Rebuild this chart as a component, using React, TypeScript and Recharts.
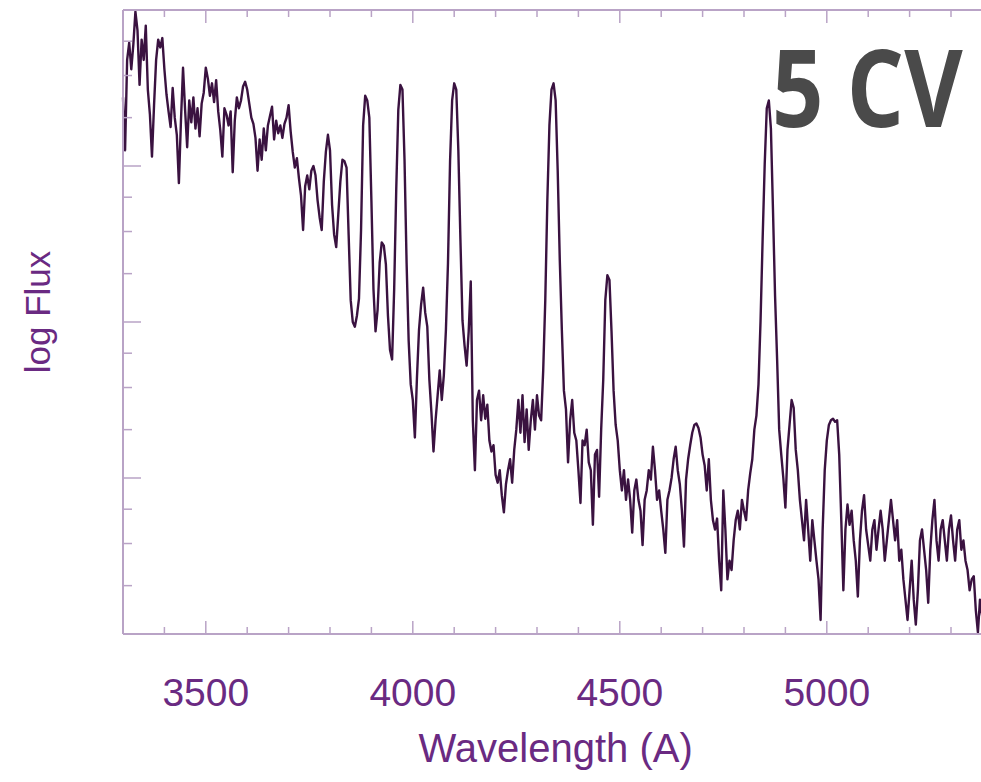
import { LineChart, Line, XAxis, YAxis } from "recharts";

// ---------------------------------------------------------------------------
// Data (5 Å sampling from 3300 Å)
// ---------------------------------------------------------------------------

const WAVE_START = 3300;
const WAVE_STEP = 5;
const WAVE_END = 5400;

// relative log flux, one value per 5 Å
const LOG_FLUX = [
  3.44, 3.10, 3.68, 3.79, 3.62, 3.78, 3.99, 3.87, 3.52, 3.81,
  3.68, 3.90, 3.49, 3.33, 3.06, 3.39, 3.68, 3.81, 3.76, 3.82,
  3.62, 3.46, 3.35, 3.25, 3.50, 3.31, 3.20, 2.89, 3.29, 3.63,
  3.36, 3.12, 3.42, 3.28, 3.44, 3.24, 3.37, 3.19, 3.40, 3.47,
  3.63, 3.56, 3.45, 3.53, 3.41, 3.55, 3.35, 3.23, 3.06, 3.37,
  3.33, 3.26, 3.35, 2.96, 3.29, 3.44, 3.37, 3.42, 3.51, 3.54,
  3.49, 3.40, 3.31, 3.27, 3.18, 2.97, 3.17, 3.04, 3.24, 3.10,
  3.26, 3.32, 3.38, 3.17, 3.29, 3.21, 3.26, 3.18, 3.27, 3.31,
  3.39, 3.22, 3.09, 2.99, 3.05, 2.92, 2.81, 2.59, 2.87, 2.94,
  2.85, 2.97, 3.00, 2.94, 2.78, 2.67, 2.59, 2.90, 3.09, 3.20,
  3.10, 2.75, 2.56, 2.48, 2.69, 2.90, 3.04, 3.03, 2.99, 2.56,
  2.14, 2.00, 1.97, 2.04, 2.15, 2.59, 3.26, 3.45, 3.42, 3.31,
  2.78, 2.21, 1.94, 2.08, 2.38, 2.51, 2.49, 2.37, 2.04, 1.82,
  1.76, 2.21, 2.85, 3.36, 3.52, 3.49, 3.04, 2.38, 1.88, 1.60,
  1.50, 1.26, 1.64, 1.95, 2.11, 2.22, 2.06, 1.97, 1.63, 1.42,
  1.17, 1.37, 1.53, 1.69, 1.50, 1.66, 1.95, 2.38, 3.03, 3.42,
  3.53, 3.49, 3.10, 2.53, 2.01, 1.85, 1.72, 1.94, 2.26, 1.37,
  1.05, 1.50, 1.56, 1.37, 1.53, 1.38, 1.47, 1.24, 1.17, 1.21,
  1.02, 0.97, 1.05, 0.89, 0.78, 0.96, 1.05, 1.12, 0.97, 1.18,
  1.31, 1.50, 1.29, 1.53, 1.23, 1.44, 1.18, 1.37, 1.50, 1.31,
  1.53, 1.40, 1.37, 1.69, 2.14, 2.78, 3.26, 3.49, 3.53, 3.42,
  2.97, 2.40, 1.95, 1.56, 1.44, 1.10, 1.37, 1.50, 1.29, 1.24,
  1.05, 0.84, 1.24, 1.21, 1.31, 1.10, 1.05, 0.70, 1.15, 1.18,
  0.88, 1.31, 1.63, 2.14, 2.30, 2.27, 1.94, 1.56, 1.34, 1.24,
  1.05, 0.92, 1.05, 0.86, 0.99, 0.86, 0.65, 0.92, 0.99, 0.86,
  0.79, 0.57, 0.86, 0.92, 1.05, 0.99, 1.20, 1.05, 0.86, 0.92,
  0.79, 0.67, 0.52, 0.86, 0.92, 1.00, 1.12, 1.20, 1.05, 0.96,
  0.79, 0.56, 0.99, 1.12, 1.21, 1.29, 1.34, 1.35, 1.32, 1.26,
  1.15, 1.08, 0.92, 1.12, 0.86, 0.73, 0.67, 0.74, 0.47, 0.28,
  0.92, 0.67, 0.35, 0.47, 0.41, 0.60, 0.73, 0.79, 0.67, 0.86,
  0.79, 0.73, 0.92, 1.03, 1.12, 1.31, 1.40, 1.60, 2.01, 2.53,
  3.01, 3.37, 3.42, 3.24, 2.72, 2.17, 1.76, 1.31, 1.15, 1.00,
  0.81, 1.18, 1.34, 1.50, 1.45, 1.18, 1.05, 0.86, 0.73, 0.60,
  0.86, 0.67, 0.47, 0.73, 0.60, 0.47, 0.35, 0.09, 0.67, 1.05,
  1.24, 1.34, 1.37, 1.38, 1.36, 1.37, 1.15, 0.73, 0.28, 0.67,
  0.83, 0.70, 0.79, 0.60, 0.47, 0.24, 0.60, 0.79, 0.89, 0.67,
  0.57, 0.47, 0.67, 0.73, 0.54, 0.67, 0.79, 0.67, 0.47, 0.60,
  0.73, 0.86, 0.73, 0.60, 0.73, 0.47, 0.54, 0.35, 0.22, 0.09,
  0.28, 0.47, 0.22, 0.06, 0.28, 0.60, 0.67, 0.54, 0.41, 0.20,
  0.54, 0.73, 0.86, 0.60, 0.47, 0.67, 0.73, 0.60, 0.47, 0.67,
  0.76, 0.60, 0.47, 0.67, 0.73, 0.54, 0.60, 0.47, 0.41, 0.28,
  0.35, 0.37, 0.15, 0.01, 0.22, 0.12, 0.22, 0.15, 0.09, 0.19, 0.12,
];

const X_MAJOR = [3500, 4000, 4500, 5000];
const X_TICKS = [
  3400, 3500, 3600, 3700, 3800, 3900, 4000, 4100, 4200, 4300,
  4400, 4500, 4600, 4700, 4800, 4900, 5000, 5100, 5200, 5300,
];
const Y_MAJOR = [1, 2, 3];
const Y_TICKS = [
  0.31, 0.58, 0.8, 1, 1.31, 1.58, 1.8, 2, 2.31, 2.58, 2.8, 3, 3.31, 3.58, 3.8,
];

const TITLE = "5 CV";

// ---------------------------------------------------------------------------
// Style
// ---------------------------------------------------------------------------

const AXIS_COLOR = "#b9a3c6";
const LABEL_COLOR = "#6a2a82";
const LINE_COLOR = "#3a1240";
const FONT = "'Liberation Sans', Arial, Helvetica, sans-serif";

const X_MAJOR_LEN = 13;
const X_MINOR_LEN = 7;
const Y_MAJOR_LEN = 18;
const Y_MINOR_LEN = 9;

const data = LOG_FLUX.map((flux, i) => ({
  wavelength: WAVE_START + i * WAVE_STEP,
  flux,
}));

// ---------------------------------------------------------------------------
// Ticks (drawn inward, like the IDL frame)
// ---------------------------------------------------------------------------

const BottomTick = (props: any) => {
  const { x, y, payload } = props;
  const major = X_MAJOR.includes(payload.value);
  return (
    <g>
      <line
        x1={x}
        x2={x}
        y1={y}
        y2={y - (major ? X_MAJOR_LEN : X_MINOR_LEN)}
        stroke={AXIS_COLOR}
        strokeWidth={1.5}
      />
      {major && (
        <text
          x={x}
          y={y + 72}
          textAnchor="middle"
          fontSize={39}
          fontFamily={FONT}
          fill={LABEL_COLOR}
        >
          {payload.value}
        </text>
      )}
    </g>
  );
};

const TopTick = (props: any) => {
  const { x, y, payload } = props;
  const major = X_MAJOR.includes(payload.value);
  return (
    <line
      x1={x}
      x2={x}
      y1={y}
      y2={y + (major ? X_MAJOR_LEN : X_MINOR_LEN)}
      stroke={AXIS_COLOR}
      strokeWidth={1.5}
    />
  );
};

const LeftTick = (props: any) => {
  const { x, y, payload } = props;
  const major = Y_MAJOR.includes(payload.value);
  return (
    <line
      x1={x}
      x2={x + (major ? Y_MAJOR_LEN : Y_MINOR_LEN)}
      y1={y}
      y2={y}
      stroke={AXIS_COLOR}
      strokeWidth={1.5}
    />
  );
};

const RightTick = (props: any) => {
  const { x, y, payload } = props;
  const major = Y_MAJOR.includes(payload.value);
  return (
    <line
      x1={x}
      x2={x - (major ? Y_MAJOR_LEN : Y_MINOR_LEN)}
      y1={y}
      y2={y}
      stroke={AXIS_COLOR}
      strokeWidth={1.5}
    />
  );
};

const xAxisLabel = (props: any) => {
  const { viewBox } = props;
  return (
    <text
      x={viewBox.x + viewBox.width / 2 - 2}
      y={viewBox.y + 128}
      textAnchor="middle"
      fontSize={40}
      fontFamily={FONT}
      fill={LABEL_COLOR}
    >
      Wavelength (A)
    </text>
  );
};

const yAxisLabel = (props: any) => {
  const { viewBox } = props;
  const x = viewBox.x - 72;
  const y = viewBox.y + viewBox.height / 2 - 10;
  return (
    <text
      x={x}
      y={y}
      transform={`rotate(-90, ${x}, ${y})`}
      textAnchor="middle"
      fontSize={35}
      fontFamily={FONT}
      fill={LABEL_COLOR}
    >
      log Flux
    </text>
  );
};

// ---------------------------------------------------------------------------
// Component
// ---------------------------------------------------------------------------

export default function App() {
  const axisLine = { stroke: AXIS_COLOR, strokeWidth: 2 };
  return (
    <div
      style={{
        position: "absolute",
        left: 0,
        top: 0,
        width: 981,
        height: 782,
        overflow: "hidden",
        background: "#ffffff",
      }}
    >
      <LineChart
        width={1000}
        height={782}
        data={data}
        margin={{ top: 9, right: 6.6, bottom: 147, left: 122 }}
      >
        <XAxis
          dataKey="wavelength"
          type="number"
          domain={[WAVE_START, WAVE_END]}
          ticks={X_TICKS}
          interval={0}
          height={1}
          tickSize={0}
          tickMargin={0}
          tickLine={false}
          axisLine={axisLine}
          tick={BottomTick}
          label={xAxisLabel}
        />
        <XAxis
          xAxisId="top"
          orientation="top"
          dataKey="wavelength"
          type="number"
          domain={[WAVE_START, WAVE_END]}
          ticks={X_TICKS}
          interval={0}
          height={1}
          tickSize={0}
          tickMargin={0}
          tickLine={false}
          axisLine={axisLine}
          tick={TopTick}
        />
        <YAxis
          type="number"
          domain={[0, 4]}
          ticks={Y_TICKS}
          interval={0}
          width={1}
          tickSize={0}
          tickMargin={0}
          tickLine={false}
          axisLine={axisLine}
          tick={LeftTick}
          label={yAxisLabel}
        />
        <YAxis
          yAxisId="right"
          orientation="right"
          type="number"
          domain={[0, 4]}
          ticks={Y_TICKS}
          interval={0}
          width={1}
          tickSize={0}
          tickMargin={0}
          tickLine={false}
          axisLine={axisLine}
          tick={RightTick}
        />
        <Line
          type="linear"
          dataKey="flux"
          stroke={LINE_COLOR}
          strokeWidth={2.4}
          strokeLinejoin="round"
          dot={false}
          isAnimationActive={false}
        />
      </LineChart>
      <svg
        width={981}
        height={782}
        style={{ position: "absolute", left: 0, top: 0, pointerEvents: "none" }}
      >
        <text
          transform="translate(772, 127) scale(1, 1.2)"
          x={0}
          y={0}
          fontSize={90}
          fontWeight={700}
          fontFamily="'Open Sans', 'Noto Sans', sans-serif"
          fill="#4a4a4a"
        >
          {TITLE}
        </text>
      </svg>
    </div>
  );
}
